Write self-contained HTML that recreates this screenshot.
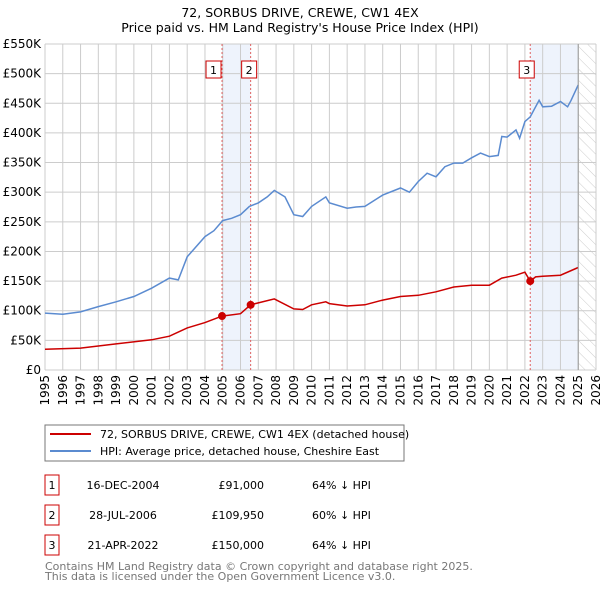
<!DOCTYPE html>
<html><head><meta charset="utf-8"><style>
body{margin:0;background:#fff;width:600px;height:590px;overflow:hidden;font-family:"Liberation Sans","DejaVu Sans",sans-serif}
svg text{font-family:"DejaVu Sans","Liberation Sans",sans-serif}
</style></head><body>
<svg id="chart" width="600" height="590" viewBox="0 0 600 590" xmlns="http://www.w3.org/2000/svg">
<defs><pattern id="hatch" width="8" height="8" patternUnits="userSpaceOnUse" patternTransform="rotate(-45)"><line x1="0" y1="0" x2="0" y2="8" stroke="#ccc" stroke-width="1"/></pattern></defs>
<text x="300" y="17" text-anchor="middle" font-size="12.5">72, SORBUS DRIVE, CREWE, CW1 4EX</text>
<text x="300" y="32" text-anchor="middle" font-size="12.5">Price paid vs. HM Land Registry's House Price Index (HPI)</text>
<g id="bg"></g><g id="grid"></g><g id="series"></g><g id="axes"></g>
<g>
<rect x="45" y="425" width="359" height="36" fill="#fff" stroke="#777"/>
<line x1="50" y1="434" x2="91" y2="434" stroke="#cc0000" stroke-width="2"/>
<text x="100" y="438" font-size="11">72, SORBUS DRIVE, CREWE, CW1 4EX (detached house)</text>
<line x1="50" y1="451" x2="91" y2="451" stroke="#5b8bd0" stroke-width="2"/>
<text x="100" y="455" font-size="11">HPI: Average price, detached house, Cheshire East</text>
</g>
<g id="table" font-size="11"></g>
<text x="45" y="570" font-size="11" fill="#777">Contains HM Land Registry data © Crown copyright and database right 2025.</text>
<text x="45" y="580" font-size="11" fill="#777">This data is licensed under the Open Government Licence v3.0.</text>
</svg>
<script>
const hpiYears=[1995,1996,1997,1998,1999,2000,2001,2002,2002.5,2003,2004,2004.5,2005,2005.5,2006,2006.5,2007,2007.5,2007.9,2008.5,2009,2009.5,2010,2010.8,2011,2012,2012.5,2013,2014,2015,2015.5,2016,2016.5,2017,2017.5,2018,2018.5,2019,2019.5,2020,2020.5,2020.7,2021,2021.5,2021.7,2022,2022.3,2022.8,2023,2023.5,2024,2024.4,2024.6,2025];
const hpiValues=[96,94,98,107,115,124,138,155,152,191,225,235,252,256,262,276,282,292,303,292,262,259,276,292,282,273,275,276,295,307,300,318,332,326,343,349,349,358,366,360,362,394,393,405,391,419,427,455,444,445,453,444,455,481];
const redYears=[1995,1997,1999,2001,2002,2003,2004,2004.96,2006,2006.57,2007.9,2009,2009.5,2010,2010.8,2011,2012,2013,2014,2015,2016,2017,2018,2019,2020,2020.7,2021.5,2022,2022.3,2022.6,2023,2024,2025];
const redValues=[35,37,44,51,57,71,80,91,95,110,120,103,102,110,115,112,108,110,118,124,126,132,140,143,143,155,160,165,150,157,158,160,173];
const saleYears=[2004.96,2006.57,2022.3];
const saleValues=[91,109.95,150];
const saleLabels=["1","2","3"];
const saleDates=["16-DEC-2004","28-JUL-2006","21-APR-2022"];
const salePrices=["£91,000","£109,950","£150,000"];
const saleHpi=["64% ↓ HPI","60% ↓ HPI","64% ↓ HPI"];
const yTicks=[0,50,100,150,200,250,300,350,400,450,500,550];
const yTickLabels=["£0","£50K","£100K","£150K","£200K","£250K","£300K","£350K","£400K","£450K","£500K","£550K"];
const xTicks=[1995,1996,1997,1998,1999,2000,2001,2002,2003,2004,2005,2006,2007,2008,2009,2010,2011,2012,2013,2014,2015,2016,2017,2018,2019,2020,2021,2022,2023,2024,2025,2026];
const X0=45,X1=596,Y0=370,Y1=44;
const x=y=>X0+(y-1995)/(2026-1995)*(X1-X0);
const yv=v=>Y0-v/550*(Y0-Y1);
const NS="http://www.w3.org/2000/svg";
function mk(parent,tag,attrs){const e=document.createElementNS(NS,tag);for(const k in attrs)e.setAttribute(k,attrs[k]);document.getElementById(parent).appendChild(e);return e;}
// background shading
let e=mk('bg','rect',{x:x(saleYears[0]),y:Y1,width:x(saleYears[1])-x(saleYears[0]),height:Y0-Y1,fill:'#eef3fc'});


e=mk('bg','rect',{x:x(saleYears[2]),y:Y1,width:x(2025)-x(saleYears[2]),height:Y0-Y1,fill:'#eef3fc'});


e=mk('bg','rect',{x:x(2025),y:Y1,width:x(2026)-x(2025),height:Y0-Y1,fill:'url(#hatch)'});


yTicks.forEach((t,i)=>{
 let l=mk('grid','line',{x1:X0,x2:X1,y1:yv(t),y2:yv(t),stroke:'#ccc'});
 
 
 let tx=mk('axes','text',{x:X0-4,y:yv(t)+4,'text-anchor':'end','font-size':12});
 
 
 tx.textContent=yTickLabels[i];
});
xTicks.forEach(t=>{
 let l=mk('grid','line',{x1:x(t),x2:x(t),y1:Y1,y2:Y0,stroke:'#ccc'});
 
 
 let tx=mk('axes','text',{x:0,y:0,'text-anchor':'end','font-size':12,transform:`translate(${x(t)+4},${Y0+5}) rotate(-90)`});
 
 
 tx.textContent=t;
});
e=mk('axes','line',{x1:x(2025),x2:x(2025),y1:Y1,y2:Y0,stroke:'#999'});


saleYears.forEach((s,i)=>{
 let l=mk('series','line',{x1:x(s),x2:x(s),y1:Y1,y2:Y0,stroke:'#e06060','stroke-dasharray':'2,2'});
 
 
});
const path=(xs,vs)=>xs.map((a,i)=>(i?'L':'M')+x(a).toFixed(1)+','+yv(vs[i]).toFixed(1)).join('');
e=mk('series','path',{d:path(hpiYears,hpiValues),fill:'none',stroke:'#5b8bd0','stroke-width':1.5});


e=mk('series','path',{d:path(redYears,redValues),fill:'none',stroke:'#cc0000','stroke-width':1.5});


saleYears.forEach((s,i)=>{
 let c=mk('series','circle',{cx:x(s),cy:yv(saleValues[i]),r:4,fill:'#cc0000'});
 
 
 let r=mk('series','rect',{x:x(s)-(i==2?8:i==0?17:0)+(i==1?0:0),y:61,width:15,height:17,fill:'#fff',stroke:'#cc0000'});
 let bx=i==0?x(s)-16:i==1?x(s)-9:x(s)-11;
 r.setAttribute('x',bx);
 
 
 let t=mk('series','text',{x:bx+7.5,y:74,'text-anchor':'middle','font-size':11});
 
 
 t.textContent=saleLabels[i];
 const ry=[475,505,535][i];
 let tb=mk('table','rect',{x:45,y:ry,width:14,height:20,fill:'#fff',stroke:'#cc0000'});
 
 
 let t1=mk('table','text',{x:52,y:ry+14,'text-anchor':'middle'});t1.textContent=saleLabels[i];
 
 
 let t2=mk('table','text',{x:123,y:ry+14,'text-anchor':'middle'});t2.textContent=saleDates[i];
 
 
 let t3=mk('table','text',{x:264,y:ry+14,'text-anchor':'end'});t3.textContent=salePrices[i];
 
 
 let t4=mk('table','text',{x:312,y:ry+14});t4.textContent=saleHpi[i];
 
 
});
</script>
</body></html>
